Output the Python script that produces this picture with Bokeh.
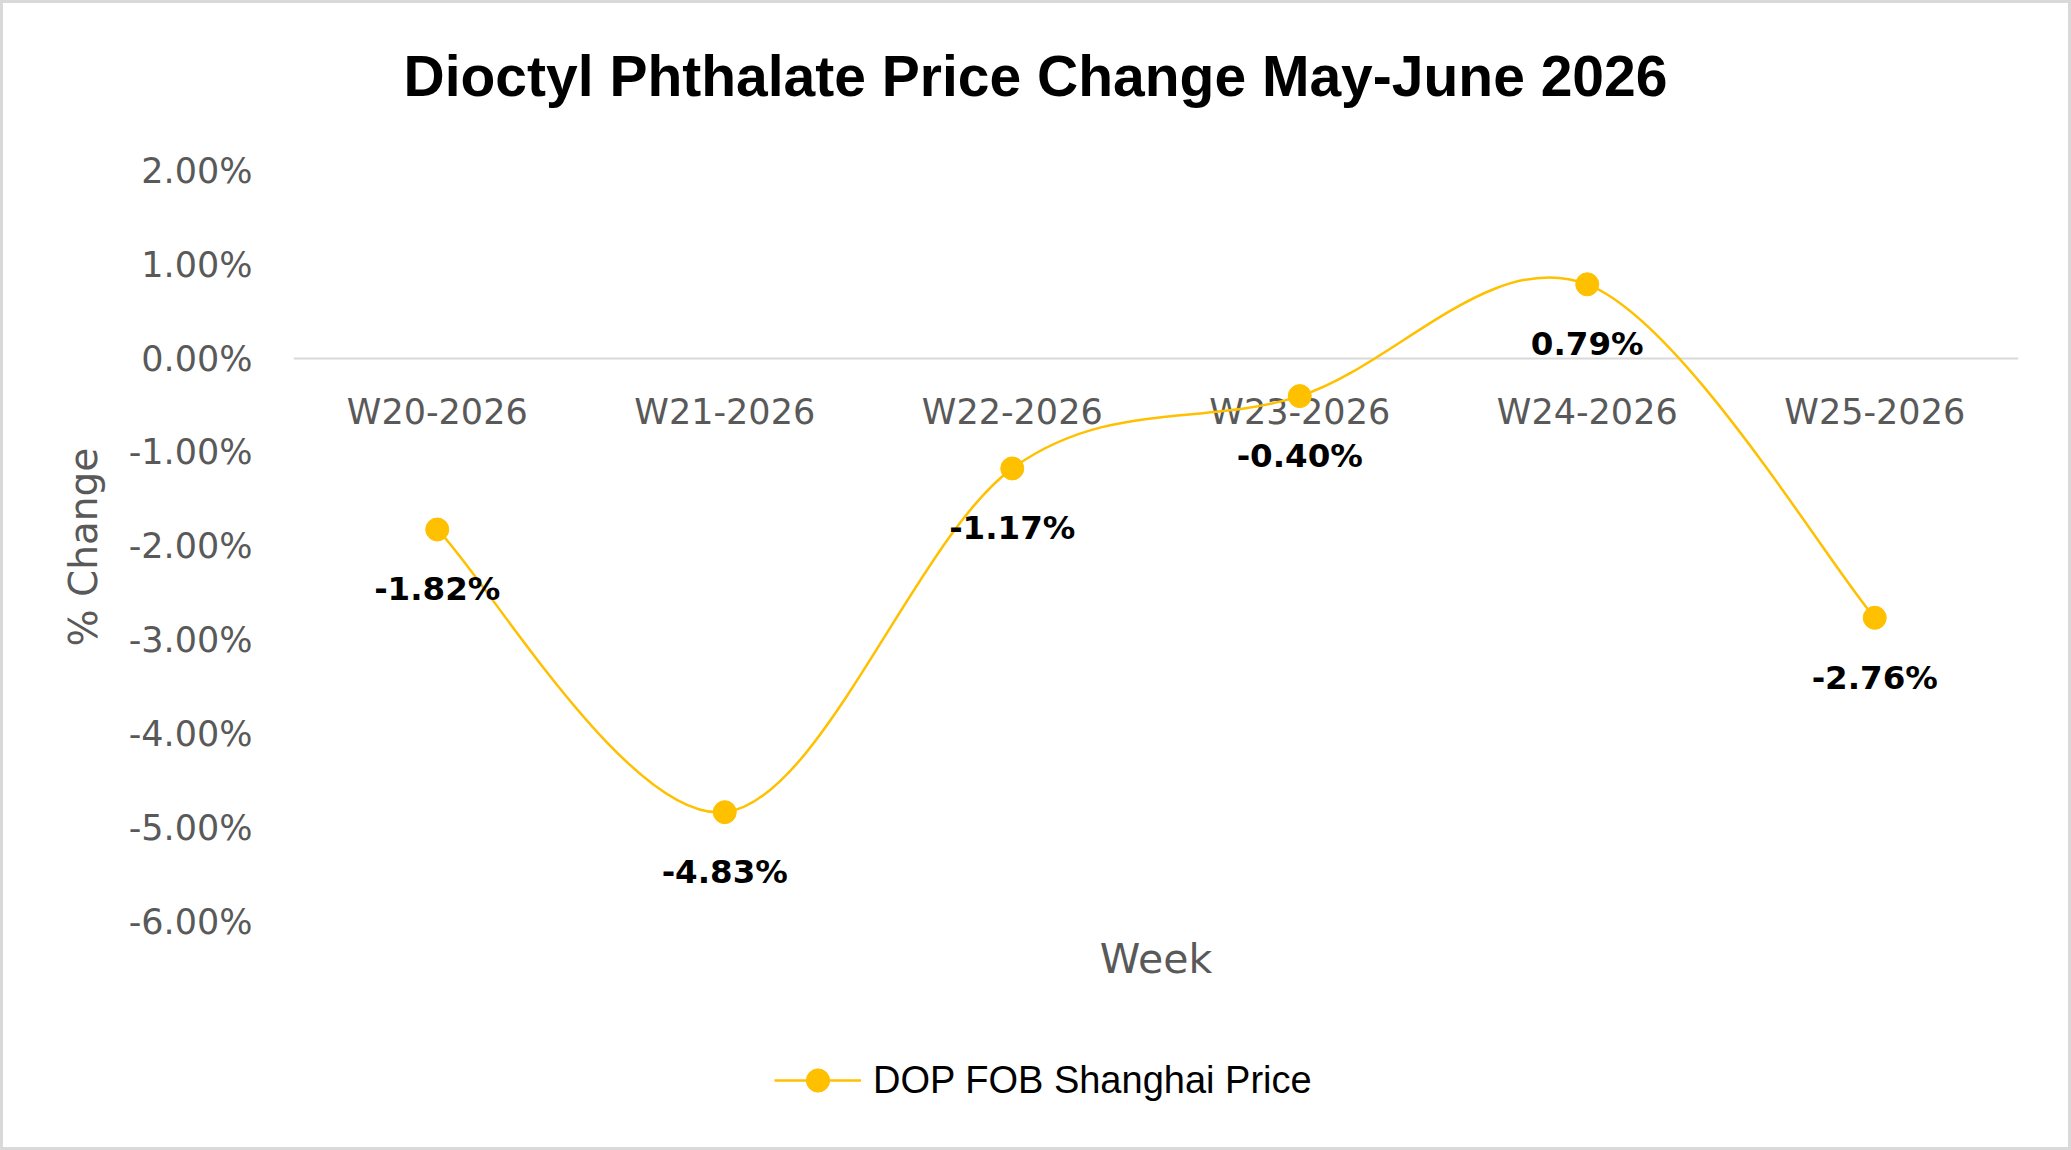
from bokeh.plotting import figure
from bokeh.models import (Range1d, FixedTicker, CustomJSTickFormatter, Span,
                          Legend, LegendItem, Label, Title)
from bokeh.core.properties import value
from bokeh.embed import file_html
from bokeh.resources import INLINE

# ---- data -----------------------------------------------------------------
weeks = ["W20-2026", "W21-2026", "W22-2026", "W23-2026", "W24-2026", "W25-2026"]
pct_change = [-1.82, -4.83, -1.17, -0.40, 0.79, -2.76]
y_ticks = [2, 1, 0, -1, -2, -3, -4, -5, -6]
series_name = "DOP FOB Shanghai Price"
title_text = "Dioctyl Phthalate Price Change May-June 2026"
x_title = "Week"
y_title = "% Change"

# ---- styling ----------------------------------------------------------------
GOLD = "#FFC000"
GREY_TEXT = "#595959"
W, H, EDGE = 2071, 1150, 3

# the frame runs the full height of the chart; the value axis shows -6..2 and
# the extra room above/below holds the title, axis title and legend
PAD_TOP, PAD_BOTTOM = 1.78, 2.40   # in percent units

# category slots: one unit per week, point in the middle of each slot
xs = [i + 0.5 for i in range(len(weeks))]


def smooth_segments(px, py):
    """Cubic Bezier pieces through the points (Catmull-Rom style tangents)."""
    n = len(px)
    seg = {k: [] for k in ("x0", "y0", "x1", "y1", "cx0", "cy0", "cx1", "cy1")}
    for i in range(n - 1):
        a, b = max(i - 1, 0), min(i + 2, n - 1)
        seg["x0"].append(px[i]);      seg["y0"].append(py[i])
        seg["x1"].append(px[i + 1]);  seg["y1"].append(py[i + 1])
        seg["cx0"].append(px[i] + (px[i + 1] - px[a]) / 6)
        seg["cy0"].append(py[i] + (py[i + 1] - py[a]) / 6)
        seg["cx1"].append(px[i + 1] - (px[b] - px[i]) / 6)
        seg["cy1"].append(py[i + 1] - (py[b] - py[i]) / 6)
    return seg


# a thin grey frame is drawn around the canvas as an outline in the margin
p = figure(width=W - 2 * EDGE, height=H - 2 * EDGE,
           output_backend="svg", toolbar_location=None,
           x_axis_location=None,
           x_range=Range1d(0, len(weeks)),
           y_range=Range1d(min(y_ticks) - PAD_BOTTOM, max(y_ticks) + PAD_TOP),
           min_border_left=290, min_border_right=50,
           min_border_top=0, min_border_bottom=0,
           styles={"margin": f"{EDGE}px",
                   "outline": f"{EDGE}px solid #d9d9d9"})
p.outline_line_color = None
p.grid.visible = False
p.background_fill_color = "white"
p.border_fill_color = "white"

# y axis: percent ticks, no line or tick marks
yax = p.yaxis[0]
yax.ticker = FixedTicker(ticks=y_ticks)
yax.formatter = CustomJSTickFormatter(code="return tick.toFixed(2) + '%';")
yax.axis_line_color = None
yax.major_tick_line_color = None
yax.minor_tick_line_color = None
yax.major_tick_out = 0
yax.major_tick_in = 0
yax.major_label_standoff = 41
yax.major_label_text_font = "DejaVu Sans"
yax.major_label_text_font_size = "35px"
yax.major_label_text_color = GREY_TEXT

# vertical axis title, centred on the -6..2 span
p.add_layout(Title(text=y_title, align="left", offset=501,
                   vertical_align="bottom", standoff=40,
                   text_font="DejaVu Sans", text_font_size="39px",
                   text_font_style="normal", text_color=GREY_TEXT), "left")

# zero line
p.add_layout(Span(location=0, dimension="width", line_color="#d9d9d9",
                  line_width=2, level="underlay"))

# week names just below the zero line
p.text(x=xs, y=[0] * len(weeks), text=weeks, text_align="center",
       text_baseline="middle", y_offset=53,
       text_font=value("DejaVu Sans"), text_font_size="35px",
       text_color=GREY_TEXT)

# horizontal axis title under the lowest tick
p.text(x=[len(weeks) / 2], y=[min(y_ticks)], text=[x_title],
       text_align="center", text_baseline="middle", y_offset=37,
       text_font=value("DejaVu Sans"), text_font_size="41px",
       text_color=GREY_TEXT)

# smoothed series line and markers
curve = p.bezier(line_color=GOLD, line_width=2.5, **smooth_segments(xs, pct_change))
dots = p.scatter(xs, pct_change, size=23, fill_color=GOLD, line_color=GOLD)

# value labels under each point
p.text(x=xs, y=pct_change, text=[f"{v:.2f}%" for v in pct_change],
       text_align="center", text_baseline="middle", y_offset=60,
       text_font=value("DejaVu Sans"), text_font_style="bold",
       text_font_size="32.5px", text_color="black")

# chart title
p.add_layout(Label(x=742, y=1072, x_units="screen", y_units="screen",
                   text=title_text, text_align="center", text_baseline="middle",
                   text_font="Liberation Sans", text_font_style="bold",
                   text_font_size="57px", text_color="black"))

legend = Legend(items=[LegendItem(label=series_name, renderers=[curve, dots])],
                location=(481, 38), orientation="horizontal",
                glyph_width=87, glyph_height=58, label_height=58,
                label_standoff=12, padding=0, margin=0, spacing=0,
                label_text_font="Liberation Sans", label_text_font_size="38px",
                label_text_color="black", border_line_color=None,
                background_fill_alpha=0)
p.add_layout(legend, "center")

open("out.html", "w").write(file_html(p, INLINE))
